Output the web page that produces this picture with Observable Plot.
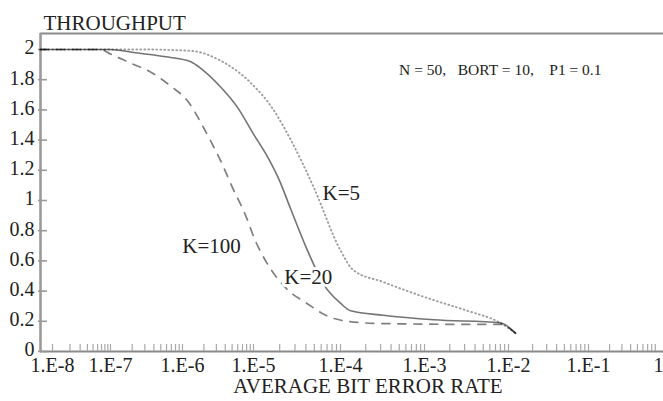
<!DOCTYPE html>
<html>
<head>
<meta charset="utf-8">
<script src="https://cdn.jsdelivr.net/npm/d3@7"></script>
<script src="https://cdn.jsdelivr.net/npm/@observablehq/plot@0.6"></script>
<style>
  html, body { margin: 0; padding: 0; background: #fff; }
  svg { display: block; }
</style>
</head>
<body>
<div id="chart"></div>
<script>
// ---- Data (x values are log10 of the average bit error rate) ----
const xTickValues = [-8, -7, -6, -5, -4, -3, -2, -1, 0];
const xTickLabels = ["1.E-8", "1.E-7", "1.E-6", "1.E-5", "1.E-4", "1.E-3", "1.E-2", "1.E-1", "1"];
const yTickValues = [0, 0.2, 0.4, 0.6, 0.8, 1, 1.2, 1.4, 1.6, 1.8, 2];
const yTickLabels = ["0", "0.2", "0.4", "0.6", "0.8", "1", "1.2", "1.4", "1.6", "1.8", "2"];

const logBerK5 = [-8.21, -7, -6.5, -5.86, -5.48, -5.04, -4.77, -4.57, -4.31, -4.0, -3.85, -3.49, -2.89, -2.49, -2.10, -1.91];
const thrK5    = [2.0, 2.0, 2.0, 1.99, 1.93, 1.78, 1.60, 1.40, 1.09, 0.67, 0.54, 0.46, 0.34, 0.27, 0.19, 0.12];

const logBerK20 = [-8.21, -7, -6.68, -6.2, -5.89, -5.73, -5.46, -5.23, -5.0, -4.83, -4.70, -4.57, -4.38, -4.20, -4.0, -3.88, -3.49, -2.89, -2.10, -1.91];
const thrK20    = [2.0, 2.0, 1.98, 1.95, 1.92, 1.87, 1.75, 1.62, 1.44, 1.28, 1.13, 0.94, 0.67, 0.45, 0.32, 0.27, 0.24, 0.21, 0.19, 0.12];

const logBerK100 = [-8.21, -7.17, -7.0, -6.72, -6.44, -6.17, -5.93, -5.70, -5.61, -5.43, -5.32, -5.11, -4.98, -4.85, -4.61, -4.39, -4.17, -3.92, -3.5, -2.5, -2.10, -1.91];
const thrK100    = [2.0, 2.0, 1.97, 1.91, 1.85, 1.76, 1.66, 1.48, 1.40, 1.23, 1.11, 0.90, 0.735, 0.59, 0.41, 0.32, 0.24, 0.20, 0.185, 0.18, 0.18, 0.12];

const labelNames = ["K=5", "K=100", "K=20"];
const labelX = [-3.99, -5.59, -4.37];
const labelY = [1.05, 0.70, 0.49];

const titleText = "THROUGHPUT";
const xLabelText = "AVERAGE BIT ERROR RATE";
const noteText = "N = 50,\u00a0\u00a0 BORT = 10,\u00a0\u00a0\u00a0 P1 = 0.1";

// ---- Derived tables ----
const toRows = (xs, ys) => xs.map((x, i) => ({x, y: ys[i]}));
const k5 = toRows(logBerK5, thrK5);
const k20 = toRows(logBerK20, thrK20);
const k100 = toRows(logBerK100, thrK100);
const labels = labelNames.map((t, i) => ({t, x: labelX[i], y: labelY[i]}));
const minorTicks = [];
for (let e = -8; e < 0; e++) for (let k = 1; k <= 9; k++) minorTicks.push(e + Math.log10(k));

const xMin = -8.207, yMax = 2.106;
const font = "'Liberation Serif', 'Times New Roman', Times, serif";

const chart = Plot.plot({
  width: 663,
  height: 401,
  marginLeft: 40,
  marginRight: 0,
  marginTop: 33,
  marginBottom: 50,
  style: {fontFamily: font, background: "#fff", color: "#222", overflow: "visible"},
  x: {type: "linear", domain: [xMin, ...xTickValues], range: [40, 52, 110, 182, 253, 340, 424, 508, 588, 658]},
  y: {domain: [0, yMax]},
  marks: [
    // frame
    Plot.ruleY([yMax], {stroke: "#8a8a8a", strokeWidth: 2.2}),
    Plot.ruleY([0], {stroke: "#8a8a8a", strokeWidth: 2.2}),
    Plot.ruleX([xMin], {stroke: "#9a9a9a", strokeWidth: 2.6}),
    // inward tick marks
    Plot.tickX(minorTicks, {x: d => d, stroke: "#a8a8a8", strokeWidth: 1.2, insetTop: 311}),
    Plot.tickY(yTickValues, {y: d => d, stroke: "#999", strokeWidth: 1.6, insetLeft: -2, insetRight: 616}),
    // axis labels
    Plot.axisX({ticks: xTickValues, tickFormat: d => xTickLabels[xTickValues.indexOf(d)], tickSize: 0, tickPadding: 6, fontSize: 20, label: null, fill: "#222"}),
    Plot.axisY({ticks: yTickValues, tickFormat: d => yTickLabels[yTickValues.indexOf(d)], tickSize: 0, tickPadding: 6, dy: -1.5, fontSize: 20, label: null, fill: "#222"}),
    // curves
    Plot.line(k5, {x: "x", y: "y", stroke: "#000", strokeOpacity: 0.38, strokeWidth: 1.9, strokeDasharray: "0.8,3.2", curve: "monotone-x"}),
    Plot.line(k100, {x: "x", y: "y", stroke: "#000", strokeOpacity: 0.5, strokeWidth: 1.7, strokeDasharray: "8,8", curve: "monotone-x"}),
    Plot.line(k20, {x: "x", y: "y", stroke: "#000", strokeOpacity: 0.55, strokeWidth: 1.6, curve: "monotone-x"}),
    // curve labels
    Plot.text(labels, {x: "x", y: "y", text: "t", fontSize: 21, fill: "#222", stroke: "#fff", strokeWidth: 6}),
    // texts
    Plot.text([noteText], {frameAnchor: "top-right", dx: -62, dy: 30, textAnchor: "end", fontSize: 15.5, fill: "#222"}),
    Plot.text([titleText], {frameAnchor: "top-left", dx: 3, dy: -18, textAnchor: "start", fontSize: 21, fill: "#222"}),
    Plot.text([xLabelText], {frameAnchor: "bottom", dx: 16, dy: 41, fontSize: 21, fill: "#222"})
  ]
});
document.getElementById("chart").appendChild(chart);
</script>
</body>
</html>
